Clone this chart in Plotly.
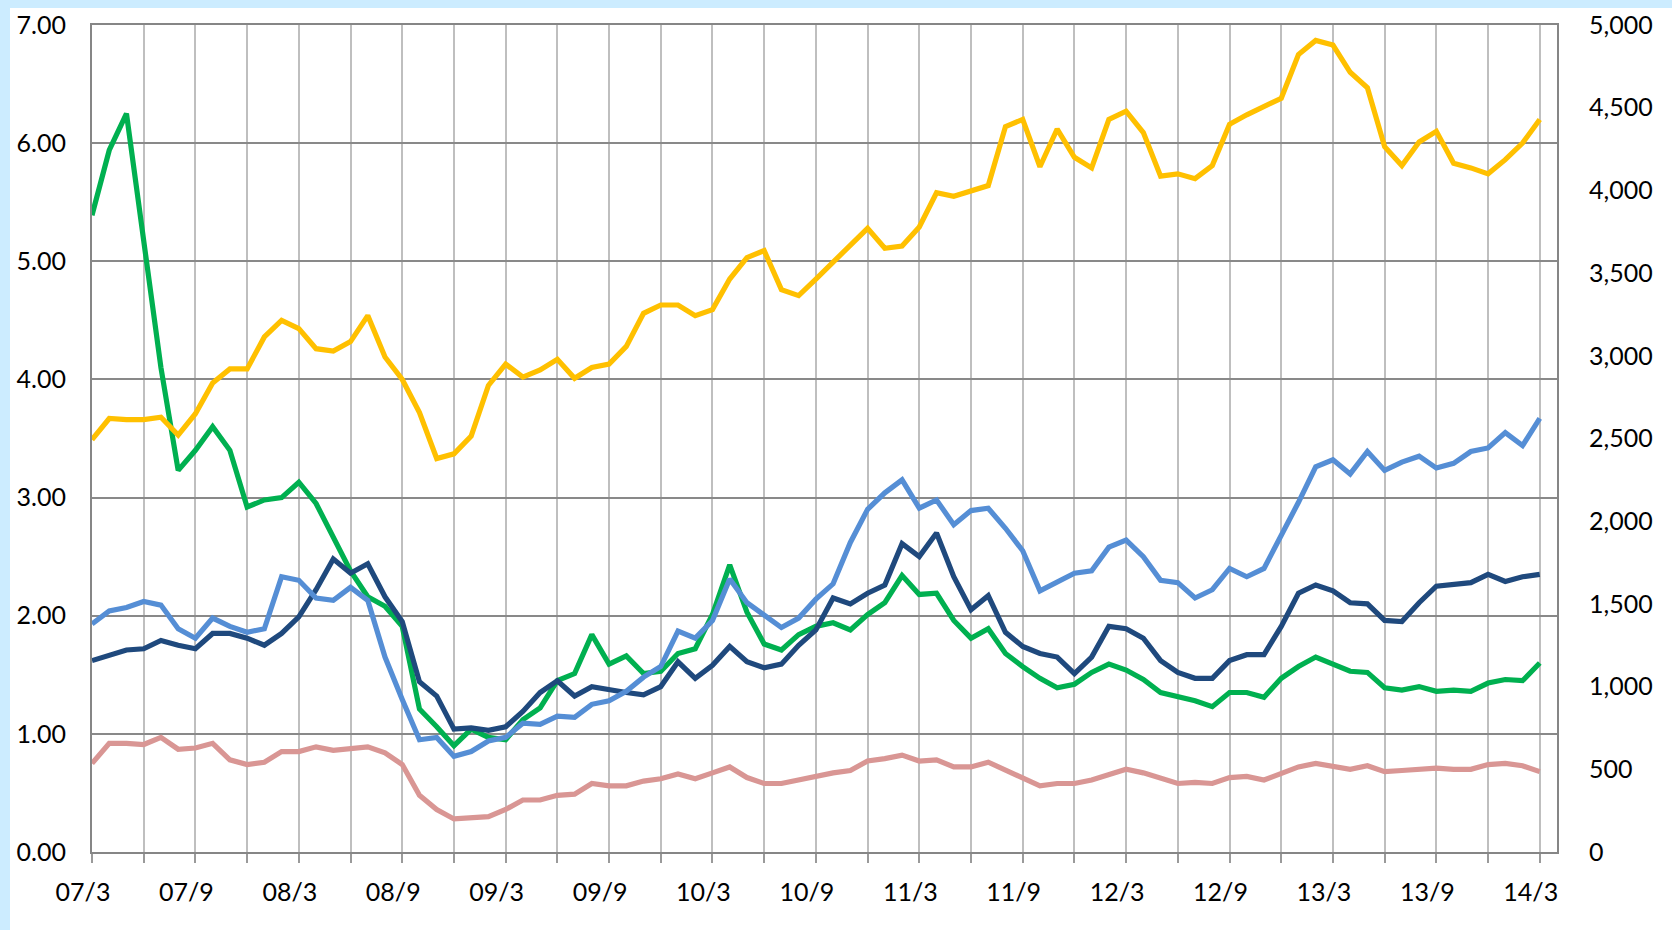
import plotly.graph_objects as go

# ---- data (monthly, 2007/3 .. 2014/3) ----
months = list(range(85))  # 0 = 07/3
tick_pos = list(range(0, 85, 3))
tick_labels = ["07/3", "07/9", "08/3", "08/9", "09/3", "09/9", "10/3", "10/9",
               "11/3", "11/9", "12/3", "12/9", "13/3", "13/9", "14/3"]

yellow_right = [2493, 2621, 2614, 2614, 2629, 2521, 2650, 2836, 2921, 2921,
                3114, 3214, 3164, 3043, 3029, 3086, 3243, 2993, 2857, 2657,
                2379, 2407, 2514, 2821, 2950, 2871, 2914, 2979, 2864, 2929,
                2950, 3057, 3257, 3307, 3307, 3243, 3279, 3464, 3593, 3636,
                3400, 3364, 3464, 3564, 3664, 3771, 3650, 3664, 3779, 3986,
                3964, 3993, 4029, 4386, 4429, 4143, 4371, 4200, 4136, 4429,
                4479, 4350, 4086, 4100, 4071, 4150, 4400, 4457, 4507, 4557,
                4821, 4907, 4879, 4714, 4621, 4264, 4150, 4293, 4357, 4164,
                4136, 4100, 4186, 4286, 4429]

green = [5.39, 5.94, 6.25, 5.15, 4.10, 3.23, 3.40, 3.60, 3.40, 2.92,
         2.98, 3.00, 3.13, 2.95, 2.67, 2.38, 2.16, 2.08, 1.91, 1.21,
         1.06, 0.90, 1.04, 0.97, 0.95, 1.12, 1.22, 1.45, 1.51, 1.84,
         1.59, 1.66, 1.51, 1.53, 1.68, 1.72, 2.01, 2.43, 2.03, 1.76,
         1.71, 1.84, 1.91, 1.94, 1.88, 2.01, 2.11, 2.34, 2.18, 2.19,
         1.96, 1.81, 1.89, 1.68, 1.57, 1.47, 1.39, 1.42, 1.52, 1.59,
         1.54, 1.46, 1.35, 1.32, 1.28, 1.23, 1.35, 1.35, 1.31, 1.47,
         1.57, 1.65, 1.59, 1.53, 1.52, 1.39, 1.37, 1.40, 1.36, 1.37,
         1.36, 1.43, 1.46, 1.45, 1.60]

navy = [1.62, 1.67, 1.71, 1.72, 1.79, 1.75, 1.72, 1.85, 1.85, 1.81,
        1.75, 1.85, 1.99, 2.22, 2.48, 2.36, 2.44, 2.16, 1.95, 1.44,
        1.32, 1.04, 1.05, 1.03, 1.06, 1.19, 1.35, 1.45, 1.32, 1.40,
        1.37, 1.35, 1.33, 1.40, 1.61, 1.47, 1.58, 1.74, 1.61, 1.56,
        1.59, 1.75, 1.88, 2.15, 2.10, 2.19, 2.26, 2.61, 2.50, 2.70,
        2.33, 2.05, 2.17, 1.86, 1.74, 1.68, 1.65, 1.51, 1.65, 1.91,
        1.89, 1.81, 1.62, 1.52, 1.47, 1.47, 1.62, 1.67, 1.67, 1.91,
        2.19, 2.26, 2.21, 2.11, 2.10, 1.96, 1.95, 2.11, 2.25, 2.26,
        2.28, 2.35, 2.29, 2.33, 2.35]

lightblue = [1.93, 2.04, 2.07, 2.12, 2.09, 1.89, 1.81, 1.98, 1.91, 1.86,
             1.89, 2.33, 2.30, 2.15, 2.13, 2.24, 2.13, 1.65, 1.29, 0.95,
             0.97, 0.81, 0.85, 0.94, 0.97, 1.09, 1.08, 1.15, 1.14, 1.25,
             1.28, 1.36, 1.48, 1.57, 1.87, 1.81, 1.96, 2.31, 2.11, 2.00,
             1.90, 1.98, 2.14, 2.27, 2.62, 2.90, 3.04, 3.15, 2.91, 2.98,
             2.77, 2.89, 2.91, 2.74, 2.55, 2.21, 2.29, 2.36, 2.38, 2.58,
             2.64, 2.50, 2.30, 2.28, 2.15, 2.22, 2.40, 2.33, 2.40, 2.67,
             2.96, 3.26, 3.32, 3.20, 3.39, 3.23, 3.30, 3.35, 3.25, 3.29,
             3.39, 3.42, 3.55, 3.44, 3.67]

pink = [0.75, 0.92, 0.92, 0.91, 0.97, 0.87, 0.88, 0.92, 0.78, 0.74,
        0.76, 0.85, 0.85, 0.89, 0.86, 0.88, 0.89, 0.84, 0.74, 0.48,
        0.36, 0.28, 0.29, 0.30, 0.36, 0.44, 0.44, 0.48, 0.49, 0.58,
        0.56, 0.56, 0.60, 0.62, 0.66, 0.62, 0.67, 0.72, 0.63, 0.58,
        0.58, 0.61, 0.65, 0.67, 0.69, 0.77, 0.79, 0.82, 0.77, 0.78,
        0.72, 0.72, 0.76, 0.69, 0.63, 0.56, 0.58, 0.58, 0.61, 0.66,
        0.70, 0.67, 0.62, 0.58, 0.59, 0.58, 0.63, 0.64, 0.61, 0.66,
        0.72, 0.75, 0.72, 0.70, 0.73, 0.68, 0.69, 0.70, 0.71, 0.70,
        0.70, 0.74, 0.75, 0.73, 0.68]

# ---- styling ----
W, H = 1672, 930
ML, MR, MT, MB = 92, 115, 25, 78
PW, PH = W - ML - MR, H - MT - MB
FONT = dict(family="Lato, Open Sans, sans-serif", size=25, color="#000000")
LW = 5.2

fig = go.Figure()

def add(y, color, axis="y"):
    fig.add_trace(go.Scatter(x=months, y=y, mode="lines", yaxis=axis,
                             line=dict(color=color, width=LW),
                             hoverinfo="skip", showlegend=False))

add(pink, "#D99694")
add(green, "#00B050")
add(navy, "#1F497D")
add(lightblue, "#558ED5")
add(yellow_right, "#FFC000", "y2")

# labels every 6 months, ticks/gridlines every 3 months
tick_text = []
for k, p in enumerate(tick_pos):
    tick_text.append(tick_labels[k // 2] if k % 2 == 0 else "")

fig.update_layout(
    width=W, height=H,
    margin=dict(l=ML, r=MR, t=MT, b=MB, pad=0, autoexpand=False),
    paper_bgcolor="#FFFFFF", plot_bgcolor="#FFFFFF",
    font=FONT,
    showlegend=False,
    hovermode=False,
    xaxis=dict(range=[0, 85], tickvals=tick_pos, ticktext=tick_text,
               ticks="outside", ticklen=9, tickwidth=1.5, tickcolor="#9A9A9A",
               ticklabelshift=-9, ticklabelstandoff=8, tickfont=FONT,
               showgrid=True, gridcolor="#BFBFBF", gridwidth=1.5,
               showline=True, linecolor="#868686", linewidth=2, mirror=True,
               zeroline=False, fixedrange=True, automargin=False),
    yaxis=dict(range=[0, 7], dtick=1, tickformat=".2f",
               showgrid=True, gridcolor="#898989", gridwidth=1.5,
               showline=True, linecolor="#868686", linewidth=2, mirror=True,
               zeroline=False, ticks="", ticklabelstandoff=19,
               tickfont=FONT, fixedrange=True, automargin=False),
    yaxis2=dict(range=[0, 5000], dtick=500, tickformat=",d",
                overlaying="y", side="right", showgrid=False,
                showline=False, zeroline=False, ticks="",
                ticklabelstandoff=31, tickfont=FONT, fixedrange=True,
                automargin=False),
)

# light-blue frame bands (left and top), in paper coordinates
def px_x(p):
    return (p - ML) / PW

def px_y(p):
    return (H - MB - p) / PH

band = "#CCECFF"
fig.add_shape(type="rect", xref="paper", yref="paper", layer="below",
              x0=px_x(0), x1=px_x(10), y0=px_y(H), y1=px_y(0),
              fillcolor=band, line=dict(width=0))
fig.add_shape(type="rect", xref="paper", yref="paper", layer="below",
              x0=px_x(0), x1=px_x(W), y0=px_y(8), y1=px_y(0),
              fillcolor=band, line=dict(width=0))

fig.write_html("out.html", config={"displayModeBar": False},
               post_script="document.body.style.margin='0px';"
                           "document.body.style.overflow='hidden';")
